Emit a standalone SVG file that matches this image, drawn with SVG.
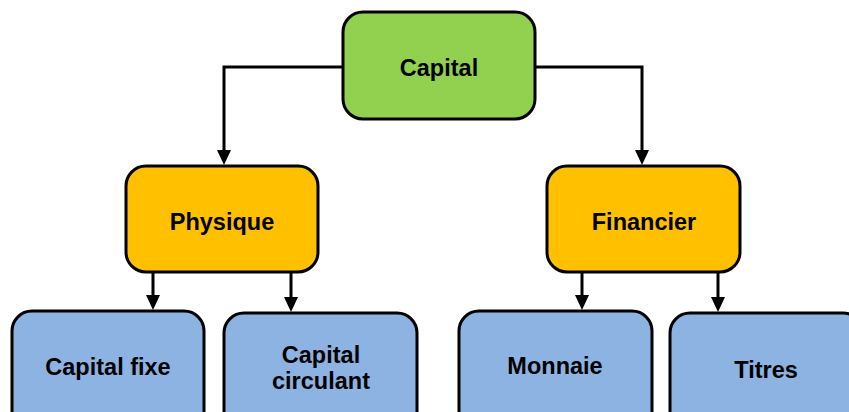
<svg xmlns="http://www.w3.org/2000/svg" width="849" height="412" viewBox="0 0 849 412">
<style>
.n{stroke:#000;stroke-width:3}
.g{fill:#92D050}
.o{fill:#FFC000}
.b{fill:#8DB3E2}
.t{font-family:"Liberation Sans",Arial,sans-serif;font-weight:bold;font-size:23.5px;fill:#000;text-anchor:middle}
.c{fill:none;stroke:#000;stroke-width:3}
</style>
<g id="connectors">
<path class="c" d="M343,67 H224 V152"/>
<path class="c" d="M535,67 H642 V152"/>
<path class="c" d="M153,272 V297"/>
<path class="c" d="M291,272 V299"/>
<path class="c" d="M582,272 V297"/>
<path class="c" d="M718,272 V299"/>
<path d="M217,150 L231,150 L224,165 Z"/>
<path d="M635,150 L649,150 L642,165 Z"/>
<path d="M146,295 L160,295 L153,310 Z"/>
<path d="M284,297 L298,297 L291,312 Z"/>
<path d="M575,295 L589,295 L582,310 Z"/>
<path d="M711,297 L725,297 L718,312 Z"/>
</g>
<g id="capital">
<rect class="n g" x="343" y="12" width="192" height="107" rx="20"/>
<text class="t" x="439" y="76">Capital</text>
</g>
<g id="physique">
<rect class="n o" x="126" y="166" width="192" height="106" rx="20"/>
<text class="t" x="222" y="230">Physique</text>
</g>
<g id="financier">
<rect class="n o" x="547" y="166" width="193" height="106" rx="20"/>
<text class="t" x="644" y="230">Financier</text>
</g>
<g id="capital-fixe">
<rect class="n b" x="12" y="311" width="192" height="120" rx="20"/>
<text class="t" x="108" y="375">Capital fixe</text>
</g>
<g id="capital-circulant">
<rect class="n b" x="224" y="313" width="193" height="120" rx="20"/>
<text class="t" x="321" y="363">Capital</text>
<text class="t" x="321" y="389">circulant</text>
</g>
<g id="monnaie">
<rect class="n b" x="459" y="311" width="193" height="120" rx="20"/>
<text class="t" x="555" y="374">Monnaie</text>
</g>
<g id="titres">
<rect class="n b" x="670" y="313" width="193" height="120" rx="20"/>
<text class="t" x="766" y="378">Titres</text>
</g>
</svg>
